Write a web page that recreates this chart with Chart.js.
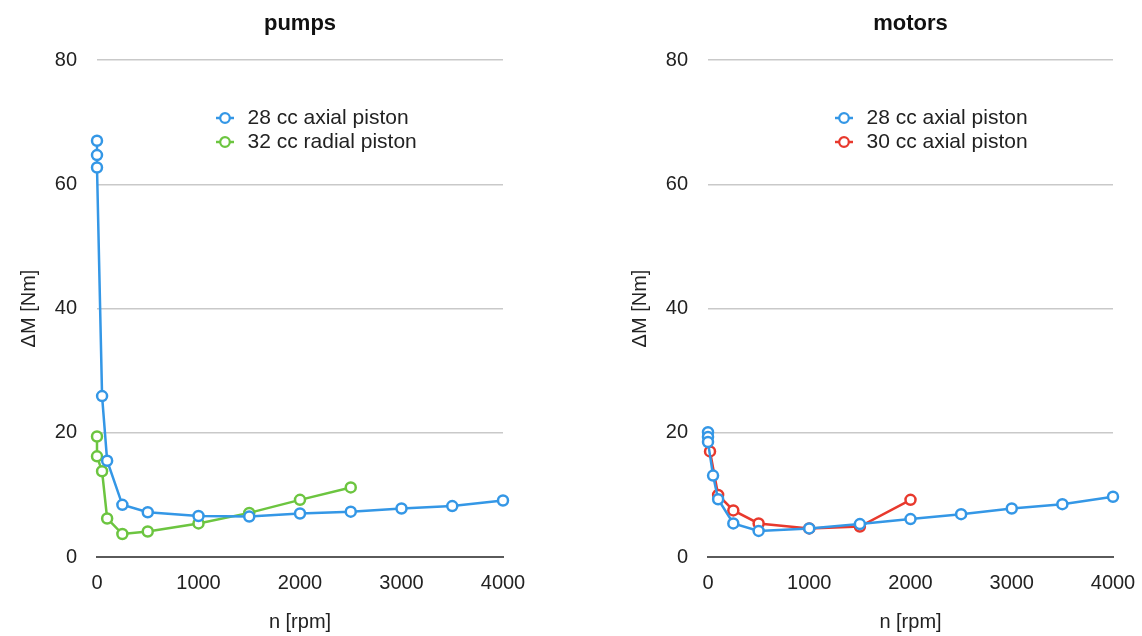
<!DOCTYPE html>
<html>
<head>
<meta charset="utf-8">
<script src="https://cdn.jsdelivr.net/npm/chart.js@4.4.1/dist/chart.umd.min.js"></script>
<style>
  html, body { margin: 0; padding: 0; background: #fff; }
  .wrap { position: relative; width: 1142px; height: 636px; }
  canvas { position: absolute; top: 0; }
</style>
</head>
<body>
<div class="wrap">
  <canvas id="pumps" width="571" height="636" style="left:0"></canvas>
  <canvas id="motors" width="571" height="636" style="left:571px"></canvas>
</div>
<script>
// tick labels
const xTicks = [0, 1000, 2000, 3000, 4000];
const yTicks = [0, 20, 40, 60, 80];

// pumps
const pumpAxialRpm = [0, 0, 0, 50, 100, 250, 500, 1000, 1500, 2000, 2500, 3000, 3500, 4000];
const pumpAxialDm = [67.0, 64.7, 62.7, 25.9, 15.5, 8.4, 7.2, 6.6, 6.5, 7.0, 7.3, 7.8, 8.2, 9.1];
const pumpRadialRpm = [0, 0, 50, 100, 250, 500, 1000, 1500, 2000, 2500];
const pumpRadialDm = [19.4, 16.2, 13.8, 6.2, 3.7, 4.1, 5.4, 7.1, 9.2, 11.2];

// motors
const motorAxial28Rpm = [0, 0, 0, 50, 100, 250, 500, 1000, 1500, 2000, 2500, 3000, 3500, 4000];
const motorAxial28Dm = [20.1, 19.3, 18.5, 13.1, 9.3, 5.4, 4.2, 4.6, 5.3, 6.1, 6.9, 7.8, 8.5, 9.7];
const motorAxial30Rpm = [20, 100, 250, 500, 1000, 1500, 2000];
const motorAxial30Dm = [17.0, 10.0, 7.5, 5.4, 4.6, 4.9, 9.2];

const BLUE = '#3497e6';
const GREEN = '#6cc540';
const RED = '#e8392d';
const FONT = "'Liberation Sans', Arial, sans-serif";

const toPoints = (xs, ys) => xs.map((x, i) => ({ x: x, y: ys[i] }));

// little "-o-" marker for the legend
function marker(color) {
  const c = document.createElement('canvas');
  c.width = 18;
  c.height = 14;
  const g = c.getContext('2d');
  g.strokeStyle = color;
  g.lineWidth = 2.5;
  g.beginPath();
  g.moveTo(0, 7);
  g.lineTo(18, 7);
  g.stroke();
  g.beginPath();
  g.arc(9, 7, 4.8, 0, Math.PI * 2);
  g.fillStyle = '#fff';
  g.fill();
  g.lineWidth = 2.2;
  g.stroke();
  return c;
}

function series(label, xs, ys, color) {
  return {
    label: label,
    data: toPoints(xs, ys),
    borderColor: color,
    backgroundColor: '#fff',
    borderWidth: 2.5,
    pointRadius: 5,
    pointBorderWidth: 2.5,
    pointBackgroundColor: '#fff',
    pointBorderColor: color,
    tension: 0,
    clip: false,
  };
}

// move the legend inside the plot, where the reference has it
const legendSpot = {
  id: 'legendSpot',
  afterLayout(chart, args, opts) {
    const lg = chart.legend;
    if (!lg) return;
    lg.left = opts.left;
    lg.top = opts.top;
  },
};

function makeChart(id, title, datasets, pad, legendLeft) {
  const ctx = document.getElementById(id).getContext('2d');
  return new Chart(ctx, {
    type: 'line',
    data: { datasets: datasets },
    plugins: [legendSpot],
    options: {
      responsive: false,
      animation: false,
      layout: { padding: pad },
      plugins: {
        title: {
          display: true,
          text: title,
          fullSize: false,
          color: '#111',
          font: { family: FONT, size: 22, weight: 'bold', lineHeight: 1.2 },
          padding: { top: 11, bottom: 22.6 },
        },
        legend: {
          position: 'chartArea',
          align: 'start',
          labels: {
            usePointStyle: true,
            pointStyleWidth: 24,
            padding: 3,
            color: '#222',
            font: { family: FONT, size: 21 },
            generateLabels: (chart) => chart.data.datasets.map((ds, i) => ({
              text: ds.label,
              fillStyle: ds.borderColor,
              strokeStyle: ds.borderColor,
              fontColor: '#222',
              pointStyle: marker(ds.borderColor),
              hidden: false,
              datasetIndex: i,
            })),
          },
        },
        legendSpot: { left: legendLeft, top: 104.5 },
        tooltip: { enabled: false },
      },
      scales: {
        x: {
          type: 'linear',
          min: 0,
          max: 4000,
          afterBuildTicks: (s) => { s.ticks = xTicks.map(v => ({ value: v })); },
          afterFit: (s) => { s.height = 79; s.paddingLeft = 0; s.paddingRight = 0; },
          grid: { color: 'rgba(0,0,0,0)', drawTicks: false },
          border: { display: true, color: '#5a5a5a', width: 2 },
          ticks: {
            color: '#222',
            padding: 14,
            font: { family: FONT, size: 20 },
            callback: (v) => String(v),
          },
          title: {
            display: true,
            text: 'n [rpm]',
            color: '#222',
            font: { family: FONT, size: 20, lineHeight: 1.2 },
            padding: { top: 0, bottom: 2 },
          },
        },
        y: {
          min: 0,
          max: 80,
          afterBuildTicks: (s) => { s.ticks = yTicks.map(v => ({ value: v })); },
          afterFit: (s) => { s.width = 97; },
          grid: {
            color: (c) => (c.tick && c.tick.value === 0 ? 'rgba(0,0,0,0)' : '#c9c9c9'),
            lineWidth: 1.5,
            drawTicks: false,
          },
          border: { display: false },
          ticks: {
            color: '#222',
            padding: 20,
            font: { family: FONT, size: 20 },
            callback: (v) => String(v),
          },
          title: {
            display: true,
            text: 'ΔM [Nm]',
            color: '#222',
            font: { family: FONT, size: 20, lineHeight: 1.2 },
            padding: { top: 17, bottom: 0 },
          },
        },
      },
    },
  });
}

makeChart('pumps', 'pumps', [
  series('28 cc axial piston', pumpAxialRpm, pumpAxialDm, BLUE),
  series('32 cc radial piston', pumpRadialRpm, pumpRadialDm, GREEN),
], { left: 0, right: 68, top: 0, bottom: 0 }, 210);

makeChart('motors', 'motors', [
  series('28 cc axial piston', motorAxial28Rpm, motorAxial28Dm, BLUE),
  series('30 cc axial piston', motorAxial30Rpm, motorAxial30Dm, RED),
], { left: 40, right: 29, top: 0, bottom: 0 }, 258);
</script>
</body>
</html>
